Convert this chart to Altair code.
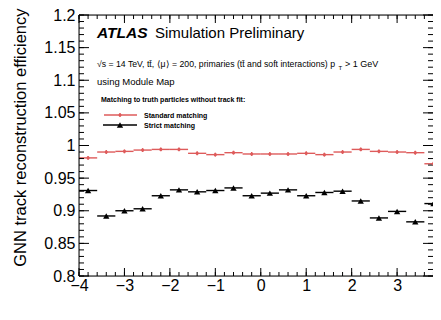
import altair as alt
import pandas as pd

# ---------------- data ----------------
eta = [-3.8, -3.4, -3.0, -2.6, -2.2, -1.8, -1.4, -1.0, -0.6, -0.2,
       0.2, 0.6, 1.0, 1.4, 1.8, 2.2, 2.6, 3.0, 3.4, 3.8]
standard = [0.981, 0.990, 0.991, 0.993, 0.994, 0.994, 0.988, 0.986, 0.989, 0.987,
            0.987, 0.987, 0.988, 0.986, 0.990, 0.994, 0.991, 0.990, 0.989, 0.972]
standard_err = [0.003, 0.003, 0.003, 0.003, 0.003, 0.003, 0.003, 0.003, 0.003, 0.003,
                0.003, 0.003, 0.003, 0.003, 0.003, 0.003, 0.003, 0.003, 0.003, 0.003]
strict = [0.931, 0.892, 0.900, 0.903, 0.923, 0.932, 0.929, 0.931, 0.935, 0.923,
          0.927, 0.932, 0.923, 0.928, 0.930, 0.915, 0.889, 0.899, 0.883, 0.911]
bin_half = 0.2

x_major = [-4, -3, -2, -1, 0, 1, 2, 3, 4]
x_minor = [round(-4 + 0.2 * i, 1) for i in range(41)]
y_major = [0.8, 0.85, 0.9, 0.95, 1.0, 1.05, 1.1, 1.15, 1.2]
y_minor = [round(0.8 + 0.01 * i, 2) for i in range(41)]

y_title = "GNN track reconstruction efficiency"
x_title = "η"
atlas_text = ["ATLAS"]
sim_text = ["Simulation Preliminary"]
info1a = ["√s = 14 TeV, tt̄, ⟨μ⟩ = 200, primaries (tt̄ and soft interactions) p"]
info1b = ["T"]
info1c = ["> 1 GeV"]
info2 = ["using Module Map"]
leg_head = ["Matching to truth particles without track fit:"]
leg_std = ["Standard matching"]
leg_strict = ["Strict matching"]

# ---------------- layout ----------------
# the reference frame runs past the right edge of the picture: show eta up to 3.79 only
W, H = 354, 261
X_MAX = 3.79
FONT = "Liberation Sans"
RED = "#de5b5b"

xs = alt.Scale(domain=[-4, X_MAX], nice=False, zero=False)
ys = alt.Scale(domain=[0.8, 1.2], nice=False, zero=False)

x_axis = alt.Axis(values=x_major, format="~g", ticks=False, domain=False, grid=False,
                  labelFont=FONT, labelFontSize=16, labelPadding=1, labelColor="black",
                  labelFlush=False, labelOverlap=False, labelBound=False,
                  title=x_title, titleFont="Liberation Serif", titleFontSize=19,
                  titleFontWeight="normal", titleColor="black",
                  titleX=W + 8, titleY=42, titleAlign="right", titleBaseline="alphabetic")
y_axis = alt.Axis(values=y_major, format="~g", ticks=False, domain=False, grid=False,
                  labelFont=FONT, labelFontSize=16, labelPadding=4, labelColor="black",
                  labelOverlap=False, labelFlush=False,
                  title=y_title, titleFont=FONT, titleFontSize=16.5, titleFontWeight="normal",
                  titleColor="black", titleX=-59, titleY=-7, titleAngle=270,
                  titleAlign="right", titleBaseline="middle")


def X(f):
    return alt.X(f, scale=xs, axis=x_axis)


def Y(f):
    return alt.Y(f, scale=ys, axis=y_axis)


df = pd.DataFrame({"eta": eta, "standard": standard, "err": standard_err, "strict": strict})
base = alt.Chart(df).transform_calculate(
    lo=f"datum.eta - {bin_half}", hi=f"datum.eta + {bin_half}",
    elo="datum.standard - datum.err", ehi="datum.standard + datum.err")

red_h = base.mark_rule(color=RED, strokeWidth=1.4).encode(x=X("lo:Q"), x2="hi:Q", y=Y("standard:Q"))
red_v = base.mark_rule(color=RED, strokeWidth=1.4).encode(x=X("eta:Q"), y=Y("elo:Q"), y2="ehi:Q")
red_p = base.mark_circle(color=RED, size=10, opacity=1).encode(x=X("eta:Q"), y=Y("standard:Q"))
blk_h = base.mark_rule(color="black", strokeWidth=1.4).encode(x=X("lo:Q"), x2="hi:Q", y=Y("strict:Q"))
blk_p = base.mark_point(shape="triangle-up", filled=True, color="black", size=40, opacity=1).encode(
    x=X("eta:Q"), y=Y("strict:Q"))


def yticks(vals, length):
    d = alt.Chart(pd.DataFrame({"v": vals}))
    left = d.mark_rule(color="black", strokeWidth=1).encode(
        y=Y("v:Q"), x=alt.value(0), x2=alt.value(length))
    right = d.mark_rule(color="black", strokeWidth=1).encode(
        y=Y("v:Q"), x=alt.value(W), x2=alt.value(W - length))
    return [left, right]


def xticks(vals, length):
    d = alt.Chart(pd.DataFrame({"v": vals}))
    bot = d.mark_rule(color="black", strokeWidth=1).encode(
        x=X("v:Q"), y=alt.value(H), y2=alt.value(H - length))
    top = d.mark_rule(color="black", strokeWidth=1).encode(
        x=X("v:Q"), y=alt.value(0), y2=alt.value(length))
    return [bot, top]


def label(texts, x, y, size, weight="normal", style="normal", align="left", font=FONT):
    return alt.Chart(pd.DataFrame({"t": texts})).mark_text(
        align=align, baseline="alphabetic", font=font, fontSize=size,
        fontWeight=weight, fontStyle=style, color="black").encode(
        x=alt.value(x), y=alt.value(y), text="t:N")


one = alt.Chart(pd.DataFrame({"a": [0]}))
# open frame (the right side lies beyond the picture in the reference)
frame = [
    one.mark_rule(color="black", strokeWidth=1).encode(x=alt.value(0), x2=alt.value(W + 10), y=alt.value(0)),
    one.mark_rule(color="black", strokeWidth=1).encode(x=alt.value(0), x2=alt.value(W + 10), y=alt.value(H)),
    one.mark_rule(color="black", strokeWidth=1).encode(x=alt.value(0), y=alt.value(0), y2=alt.value(H)),
]

leg_y1, leg_y2 = 100, 110
leg_layers = [
    one.mark_rule(color=RED, strokeWidth=1.4).encode(x=alt.value(25), x2=alt.value(58), y=alt.value(leg_y1)),
    one.mark_rule(color=RED, strokeWidth=1.4).encode(x=alt.value(41), y=alt.value(leg_y1 - 2), y2=alt.value(leg_y1 + 2)),
    one.mark_circle(color=RED, size=10, opacity=1).encode(x=alt.value(41), y=alt.value(leg_y1)),
    one.mark_rule(color="black", strokeWidth=1.4).encode(x=alt.value(24), x2=alt.value(58), y=alt.value(leg_y2)),
    one.mark_point(shape="triangle-up", filled=True, color="black", size=40, opacity=1).encode(
        x=alt.value(41), y=alt.value(leg_y2)),
]

texts = [
    label(atlas_text, 18, 23, 15.5, weight="bold", style="italic"),
    label(sim_text, 76, 23, 15),
    label(info1a, 18, 52, 8.7),
    label(info1b, 259.5, 54.5, 6),
    label(info1c, 266, 52, 9),
    label(info2, 18, 70, 9.5),
    label(leg_head, 22, 87, 7, weight="bold"),
    label(leg_std, 65, 102.5, 7, weight="bold"),
    label(leg_strict, 65, 112.5, 7, weight="bold"),
]

layers = [red_h] + frame + yticks(y_minor, 5) + yticks(y_major, 10) + xticks(x_minor, 4) + xticks(x_major, 8) \
    + [red_v, red_p, blk_h, blk_p] + leg_layers + texts

chart = alt.layer(*layers).properties(
    width=W, height=H,
    autosize=alt.AutoSizeParams(type="none"),
    padding={"left": 71, "top": 7, "right": 0, "bottom": 29},
).configure_view(strokeWidth=0).configure(background="white")

chart.save("out.html", embed_options={"renderer": "svg", "actions": False})
